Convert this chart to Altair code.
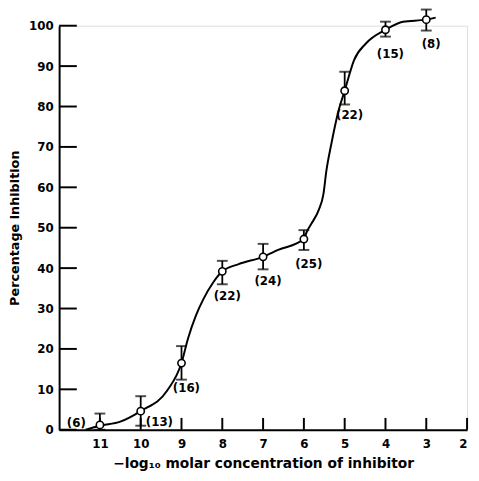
import altair as alt
import pandas as pd

# Measured points
conc = [11, 10, 9, 8, 7, 6, 5, 4, 3]
inhib = [1.2, 4.6, 16.5, 39.2, 42.8, 47.2, 83.9, 99.0, 101.5]
err_hi = [4.0, 8.3, 20.7, 41.8, 46.0, 49.4, 88.6, 101.0, 104.0]
err_lo = [0.0, 1.0, 12.4, 36.0, 39.7, 44.5, 80.5, 97.3, 98.8]
n_obs = [6, 13, 16, 22, 24, 25, 22, 15, 8]

# Hand-drawn fitted curve
curve_x = [11.35, 11.0, 10.5, 10.0, 9.35, 9.0, 8.84, 8.65, 8.46, 8.22, 8.0, 7.6, 7.0,
           6.63, 6.0, 5.93, 5.81, 5.64, 5.52, 5.45, 5.33, 5.16, 5.0, 4.77, 4.48,
           4.0, 3.57, 3.0, 2.77]
curve_y = [0.0, 1.0, 2.0, 4.6, 9.7, 16.5, 22.6, 28.2, 32.4, 36.5, 39.2, 41.0, 42.8,
           44.5, 47.2, 49.0, 51.1, 54.3, 58.4, 64.0, 70.6, 78.6, 83.9, 91.5, 95.6,
           99.0, 101.0, 101.5, 102.0]

x_ticks = [11, 10, 9, 8, 7, 6, 5, 4, 3, 2]
y_ticks = [0, 10, 20, 30, 40, 50, 60, 70, 80, 90, 100]
x_min, x_max = 2, 12
y_min, y_max = 0, 100

FONT = "DejaVu Sans"
W, H = 415, 411
XTICK_PX, YTICK_PX = 12, 18   # inward tick lengths in pixels

# one single table for every layer
rows = []
for cx, cy in zip(curve_x, curve_y):
    rows.append({"kind": "curve", "x": cx, "y": cy})
for x, y, hi, lo, n in zip(conc, inhib, err_hi, err_lo, n_obs):
    rows.append({"kind": "pt", "x": x, "y": y, "hi": hi, "lo": lo,
                 "lab": "(%d)" % n})
for t in x_ticks:
    rows.append({"kind": "xt", "x": t, "x2": t, "y": y_min,
                 "y2": y_min + XTICK_PX * (y_max - y_min) / H})
for t in y_ticks:
    rows.append({"kind": "yt", "x": x_max,
                 "x2": x_max - YTICK_PX * (x_max - x_min) / W, "y": t, "y2": t})
df = pd.DataFrame(rows)

xscale = alt.Scale(domain=[x_min, x_max], reverse=True, nice=False, zero=False)
yscale = alt.Scale(domain=[y_min, y_max], nice=False, zero=True)

xaxis = alt.Axis(values=x_ticks, tickSize=0, labelPadding=9, labelFontSize=12,
                 labelFont=FONT, labelFontWeight="bold", labelColor="black",
                 domainColor="black", domainWidth=2, grid=False,
                 title="\u2212log\u2081\u2080 molar concentration of inhibitor",
                 titleFont=FONT, titleFontSize=14, titleFontWeight="bold",
                 titleColor="black", titlePadding=7)
yaxis = alt.Axis(values=y_ticks, tickSize=0, labelPadding=6, labelFontSize=12,
                 labelFont=FONT, labelFontWeight="bold", labelColor="black",
                 domainColor="black", domainWidth=2, grid=False,
                 title="Percentage inhibition", titleFont=FONT, titleFontSize=13,
                 titleFontWeight="bold", titleColor="black", titlePadding=7)

base = alt.Chart(df)

line = base.transform_filter("datum.kind == 'curve'").mark_line(
    color="black", strokeWidth=2, interpolate="monotone").encode(
    x=alt.X("x:Q", scale=xscale, axis=xaxis),
    y=alt.Y("y:Q", scale=yscale, axis=yaxis),
    order=alt.Order("x:Q", sort="descending"))

tick_marks = base.transform_filter(
    "datum.kind == 'xt' || datum.kind == 'yt'").mark_rule(
    color="black", strokeWidth=2).encode(
    x="x:Q", x2="x2:Q", y="y:Q", y2="y2:Q")

P = "datum.kind == 'pt'"
bars = base.transform_filter(P).mark_rule(color="black", strokeWidth=1.8).encode(
    x="x:Q", y="lo:Q", y2="hi:Q")
cap_hi = base.transform_filter(P).mark_tick(
    orient="horizontal", size=11, thickness=2, color="black").encode(
    x="x:Q", y="hi:Q")
cap_lo = base.transform_filter(P).mark_tick(
    orient="horizontal", size=11, thickness=2, color="black").encode(
    x="x:Q", y="lo:Q")
dots = base.transform_filter(P).mark_point(
    shape="circle", size=55, filled=True, fill="white", stroke="black",
    strokeWidth=1.6, opacity=1).encode(x="x:Q", y="y:Q")

txt_kw = dict(font=FONT, fontSize=12, fontWeight="bold", color="black")
lab_left = base.transform_filter(P + " && datum.x == 11").mark_text(
    dx=-24, dy=-2, **txt_kw).encode(x="x:Q", y="y:Q", text="lab:N")
lab_right = base.transform_filter(P + " && datum.x == 10").mark_text(
    dx=19, dy=11, **txt_kw).encode(x="x:Q", y="y:Q", text="lab:N")
lab_below = base.transform_filter(P + " && datum.x <= 9").mark_text(
    dx=5, dy=25, **txt_kw).encode(x="x:Q", y="y:Q", text="lab:N")

chart = alt.layer(line, tick_marks, bars, cap_hi, cap_lo, dots,
                  lab_left, lab_right, lab_below).properties(
    width=W, height=H,
    autosize=alt.AutoSizeParams(type="none"),
    padding={"left": 52, "top": 14, "right": 4, "bottom": 40},
).configure_view(stroke=None).configure(background="white")

chart.save("out.html", embed_options={"renderer": "svg", "actions": False})
